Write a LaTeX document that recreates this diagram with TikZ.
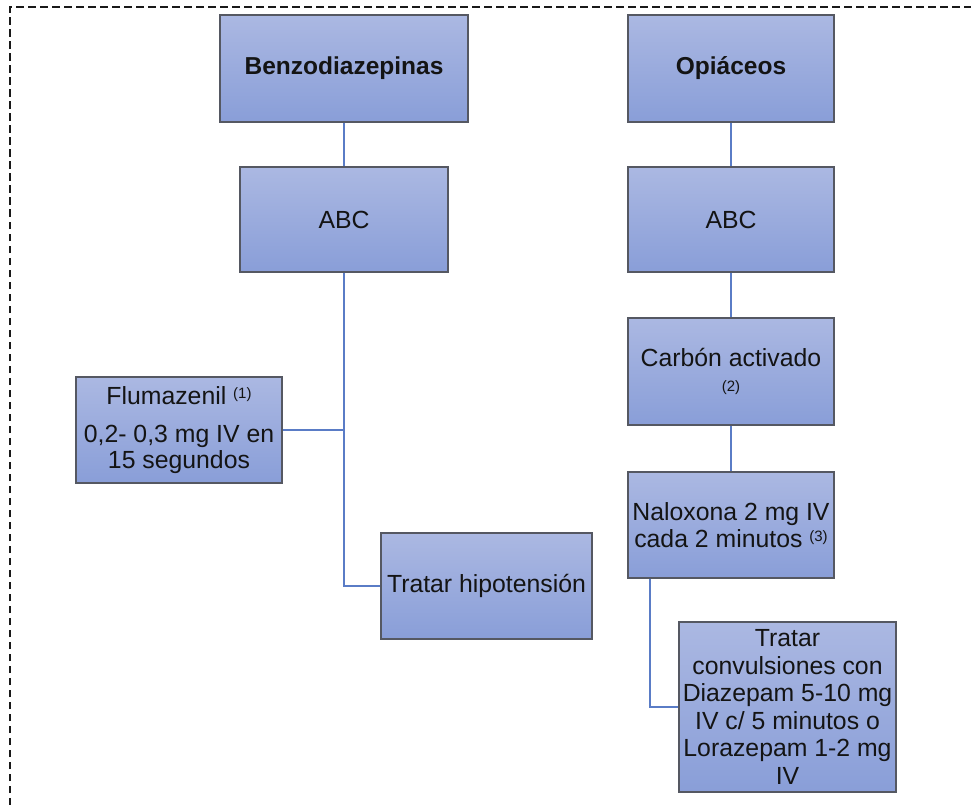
\documentclass[tikz,border=0pt]{standalone}
\usepackage{fontspec}
\setmainfont{Liberation Sans}
\usetikzlibrary{calc}
\definecolor{boxtop}{RGB}{171,184,226}
\definecolor{boxbot}{RGB}{137,158,216}
\definecolor{boxedge}{RGB}{85,88,98}
\definecolor{linkblue}{RGB}{90,124,198}
\newcommand{\fnmark}[1]{\raisebox{6pt}{\fontsize{15}{15}\selectfont #1}}
\tikzset{
  flowbox/.style={draw=boxedge, line width=1.2pt, top color=boxtop, bottom color=boxbot,
    inner sep=0pt, align=center, font=\fontsize{24.8}{27.5}\selectfont, text=black!92},
  link/.style={draw=linkblue, line width=2pt},
  frame/.style={draw=black!90, line width=2pt, dash pattern=on 7.5pt off 4.5pt}
}
\begin{document}
\begin{tikzpicture}[x=1pt,y=-1pt]
\useasboundingbox (0,0) rectangle (971,805);
\draw[frame] (9.5,805) -- (9.5,7.5) -- (971,7.5);

\node[flowbox, minimum width=248pt, minimum height=107pt, font=\fontsize{24.5}{27.5}\selectfont\bfseries] (benzo) at (344,68.5) {Benzodiazepinas};
\node[flowbox, minimum width=206pt, minimum height=107pt, font=\fontsize{24.5}{27.5}\selectfont\bfseries] (opi) at (731,68.5) {Opiáceos};
\node[flowbox, minimum width=208pt, minimum height=105pt] (abcl) at (344,219.5) {ABC};
\node[flowbox, minimum width=206pt, minimum height=105pt] (abcr) at (731,219.5) {ABC};
\node[flowbox, minimum width=206pt, minimum height=107pt] (carbon) at (731,371.5) {Carbón activado\\[-3pt]{\fontsize{15}{15}\selectfont (2)}};
\node[flowbox, minimum width=206pt, minimum height=106pt] (nalox) at (731,525) {Naloxona 2 mg IV\\cada 2 minutos \fnmark{(3)}};
\node[flowbox, minimum width=206pt, minimum height=106pt] (fluma) at (179,430) {Flumazenil \fnmark{(1)}\\[11pt]0,2- 0,3 mg IV en\\[-2pt]15 segundos};
\node[flowbox, minimum width=211pt, minimum height=106pt] (hipo) at (486.5,586) {Tratar hipotensión};
\node[flowbox, minimum width=217pt, minimum height=170pt] (conv) at (787.5,707) {Tratar\\convulsiones con\\Diazepam 5-10 mg\\IV c/ 5 minutos o\\Lorazepam 1-2 mg\\IV};

\draw[link] (benzo.south) -- (abcl.north);
\draw[link] (opi.south) -- (abcr.north);
\draw[link] (abcr.south) -- (carbon.north);
\draw[link] (carbon.south) -- (nalox.north);
\draw[link] (abcl.south) |- (hipo.west);
\draw[link] (fluma.east) -- (fluma.east -| abcl.south);
\draw[link] ([xshift=23pt]nalox.south west) |- (conv.west);
\end{tikzpicture}
\end{document}
